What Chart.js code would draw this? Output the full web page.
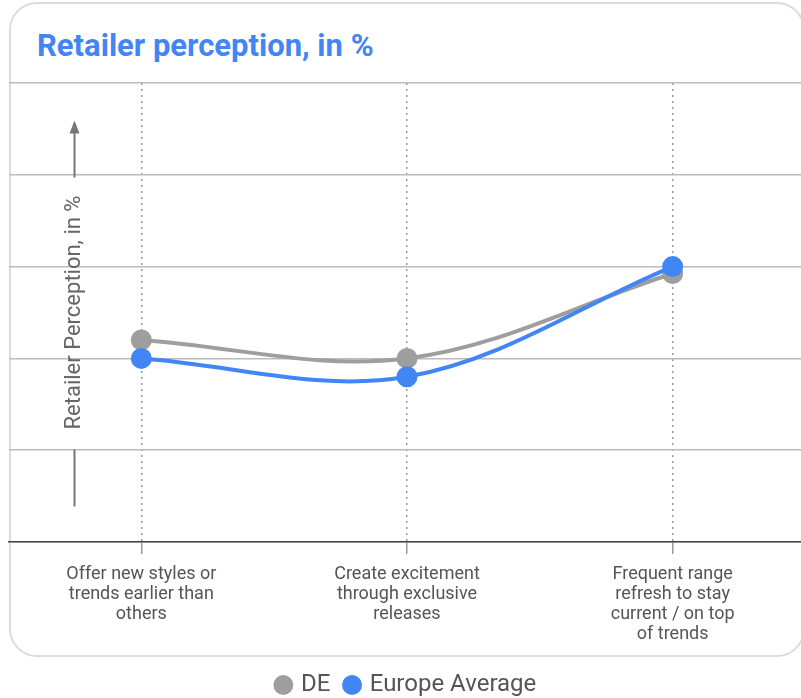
<!DOCTYPE html>
<html>
<head>
<meta charset="utf-8">
<script src="https://cdn.jsdelivr.net/npm/chart.js@4/dist/chart.umd.min.js"></script>
<style>
  html, body { margin: 0; padding: 0; background: #fff; }
  body { width: 801px; height: 698px; overflow: hidden; position: relative; font-family: Roboto, "Noto Sans", sans-serif; }
  .card { position: absolute; left: 9px; top: 2px; width: 796px; height: 655px; border: 2px solid #dcdcdc; border-radius: 28px; box-sizing: border-box; }
  .title { position: absolute; left: 37px; top: 28px; margin: 0; font: 700 31px Roboto, sans-serif; color: #4285F4; line-height: 36px; white-space: nowrap; }
  canvas { position: absolute; left: -4px; top: 0; }
</style>
</head>
<body>
<div class="card"></div>
<h1 class="title">Retailer perception, in %</h1>
<canvas id="chart" width="822" height="707"></canvas>
<script>
// Statements rated by retailers
const categories = [
  ['Offer new styles or', 'trends earlier than', 'others'],
  ['Create excitement', 'through exclusive', 'releases'],
  ['Frequent range', 'refresh to stay', 'current / on top', 'of trends']
];

// Share of retailers agreeing, in %
const deValues = [44, 40, 58.5];
const europeValues = [40, 36, 60];

const seriesNames = ['DE', 'Europe Average'];
const axisTitle = 'Retailer Perception, in %';

const GREY = '#9e9e9e';
const BLUE = '#4285F4';

// Rotated axis caption with an arrow, placed inside the plot area
const axisCaption = {
  id: 'axisCaption',
  afterDatasetsDraw(chart) {
    const { ctx, chartArea } = chart;
    const x = chartArea.left + 66;
    const cy = (chartArea.top + chartArea.bottom) / 2;
    ctx.save();
    ctx.strokeStyle = '#777';
    ctx.fillStyle = '#777';
    ctx.lineWidth = 2;
    ctx.beginPath();
    ctx.moveTo(x, cy - 135);
    ctx.lineTo(x, cy - 180);
    ctx.stroke();
    ctx.beginPath();
    ctx.moveTo(x, cy - 192);
    ctx.lineTo(x - 5, cy - 179);
    ctx.lineTo(x + 5, cy - 179);
    ctx.closePath();
    ctx.fill();
    ctx.beginPath();
    ctx.moveTo(x, cy + 137);
    ctx.lineTo(x, cy + 194);
    ctx.stroke();
    ctx.translate(x, cy);
    ctx.rotate(-Math.PI / 2);
    ctx.fillStyle = '#666';
    ctx.font = '22px Roboto, sans-serif';
    ctx.textAlign = 'center';
    ctx.textBaseline = 'middle';
    ctx.fillText(axisTitle, 0, 0);
    ctx.restore();
  }
};

new Chart(document.getElementById('chart'), {
  type: 'line',
  data: {
    labels: categories,
    datasets: [
      {
        label: seriesNames[0],
        data: deValues,
        borderColor: GREY,
        backgroundColor: GREY,
        pointBackgroundColor: GREY,
        pointBorderColor: GREY,
        borderWidth: 4,
        pointRadius: 8.5,
        tension: 0.35,
        order: 1
      },
      {
        label: seriesNames[1],
        data: europeValues,
        borderColor: BLUE,
        backgroundColor: BLUE,
        pointBackgroundColor: BLUE,
        pointBorderColor: BLUE,
        borderWidth: 4,
        pointRadius: 8.5,
        tension: 0.35,
        order: 0
      }
    ]
  },
  options: {
    responsive: false,
    animation: false,
    layout: { padding: { top: 83, left: 0, right: 0, bottom: 0 } },
    plugins: {
      title: { display: false },
      tooltip: { enabled: false },
      legend: {
        position: 'bottom',
        labels: {
          sort: (a, b) => a.datasetIndex - b.datasetIndex,
          usePointStyle: true,
          pointStyle: 'circle',
          boxWidth: 11.3,
          boxHeight: 11.3,
          padding: 16,
          color: '#555',
          font: { family: 'Roboto', size: 24 }
        }
      }
    },
    scales: {
      x: {
        offset: true,
        afterFit: (scale) => { scale.height += 3; },
        grid: {
          offset: false,
          color: '#999',
          lineWidth: 1.5,
          drawTicks: true,
          tickLength: 12
        },
        border: { display: true, color: '#444', width: 1.5, dash: [2, 4] },
        ticks: {
          color: '#555',
          padding: 10,
          maxRotation: 0,
          autoSkip: false,
          font: { family: 'Roboto', size: 18, lineHeight: '20px' }
        }
      },
      y: {
        min: 0,
        max: 100,
        afterFit: (scale) => { scale.width = 0; },
        ticks: { display: false, stepSize: 20 },
        grid: { color: '#bbb', lineWidth: 1.5, drawTicks: false },
        border: { display: false }
      }
    }
  },
  plugins: [axisCaption]
});
</script>
</body>
</html>
